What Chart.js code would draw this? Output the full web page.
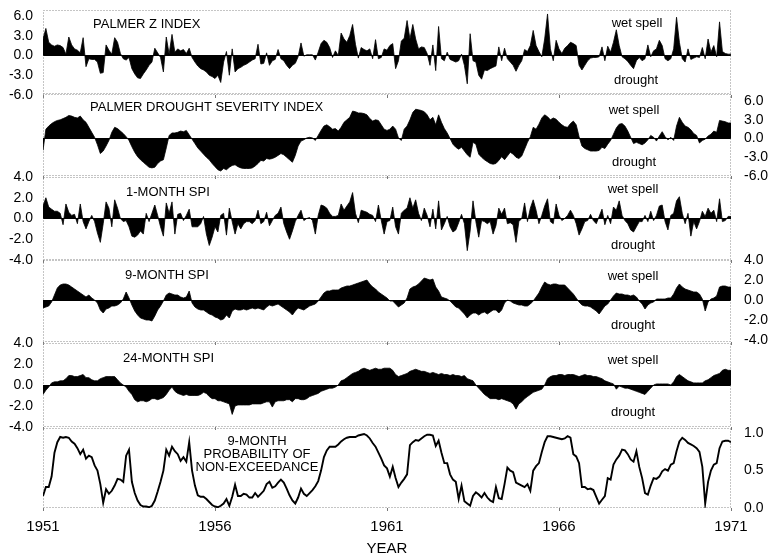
<!DOCTYPE html>
<html><head><meta charset="utf-8">
<script src="https://cdn.jsdelivr.net/npm/chart.js@4.4.1/dist/chart.umd.min.js"></script>
<style>
html,body{margin:0;padding:0;background:#fff;}
#wrap{position:relative;width:774px;height:556px;overflow:hidden;background:#fff;}
#wrap canvas{position:absolute;left:0;}
</style></head><body><div id="wrap"></div>
<script>
// ---- data (monthly, Jan 1951 .. Jan 1971) ----
const yearTicks = [0, 60, 120, 180, 240];
const yearLabels = ['1951', '1956', '1961', '1966', '1971'];
const palmerTicks = [-6, -3, 0, 3, 6];
const spiTicks = [-4, -2, 0, 2, 4];
const probTicks = [0, 0.5, 1];

const palmerZ = [
 2.5, 4.1, 2.0, 1.6, 1.4, 1.6, 1.5, 1.2, 0.2, 2.8, 1.6, 1.0,
 0.8, 0.4, 2.7, -1.7, -0.5, -0.6, -0.6, -1.0, -2.7, -2.6, 1.6, 0.8,
 0.2, 2.7, 2.0, 0.3, -0.5, -0.7, -0.3, -2.0, -2.8, -3.4, -3.5, -2.8,
 -2.2, -1.5, -1.0, 1.1, 0.4, -0.3, -2.5, 2.8, 0.2, 3.2, 0.5, 1.0,
 0.7, 0.9, 0.3, 1.1, -0.3, -1.0, -1.6, -2.0, -2.2, -2.5, -3.0, -3.2,
 -3.5, -3.0, -4.1, -1.0, 0.6, -3.0, 1.0, -2.5, -2.0, -1.8, -1.5, -1.3,
 -1.0, -0.7, -0.5, 1.7, -1.3, -1.2, 0.4, -1.5, -0.8, -0.6, 0.9, -0.5,
 -0.8, -1.5, -2.0, -1.5, -1.2, -0.2, 1.9, -0.1, 0.1, 0.1, 0.1, -0.7,
 0.5, 1.8, 2.3, 2.0, 1.2, -0.3, 0.7, 0.0, 3.4, 2.5, 2.0, 3.0,
 4.7, 1.7, -0.4, 1.2, 0.9, 0.7, 1.0, -0.5, 2.4, -0.5, -0.3, 1.0,
 0.8, 1.5, 1.8, -2.0, -0.8, 2.2, 2.6, 5.3, 2.5, 4.7, 2.5, 1.0,
 1.3, 1.2, 0.3, -1.5, 1.6, -2.3, 4.4, -0.5, -0.8, 0.5, -0.6, -0.8,
 -1.0, -0.8, 0.2, -1.5, -4.3, 3.3, -0.8, -1.0, -3.0, -3.6, -2.2, -2.3,
 -2.0, -1.8, -1.6, 1.3, -0.8, 1.1, -0.5, -1.0, -1.5, -2.4, -1.5, -0.8,
 0.9, 0.6, 1.5, 3.8, 1.5, 0.6, -0.2, 2.5, 6.3, 1.0, -0.8, 2.3,
 1.0, 0.3, 1.1, 1.5, 2.0, 1.8, 1.5, -1.5, -2.2, -1.5, -0.8, -0.4,
 -0.3, -0.3, -0.2, 1.3, -0.8, 1.4, 0.5, 2.0, 3.9, 1.5, -0.2, -0.5,
 -0.9, -1.5, -2.0, -0.8, -0.3, -0.8, -0.5, 1.6, -0.2, 0.7, 1.0, 2.3,
 1.5, -0.5, -0.8, -0.5, 1.0, 5.8, 2.0, -0.5, -1.0, 1.0, -0.6, -0.4,
 -0.2, -0.3, 1.2, -0.5, 2.5, 0.5, 1.5, -0.2, 5.1, 0.6, 0.3, 0.2,
 0.2
];

const pdsi = [
 -1.9, 1.5, 2.0, 2.4, 2.7, 2.9, 3.0, 3.2, 3.4, 3.7, 3.6, 3.4,
 3.3, 3.6, 3.0, 2.6, 1.8, 1.0, 0.2, -1.0, -2.4, -2.0, -1.2, -0.3,
 1.0, 1.8, 1.6, 1.2, 0.8, 0.3, -0.3, -1.3, -2.2, -2.9, -3.4, -3.8,
 -4.2, -4.6, -4.7, -4.6, -4.0, -3.6, -3.4, -1.5, 0.5, 0.9, 0.9, 1.0,
 1.2, 1.1, 1.3, 0.6, -0.1, -0.8, -1.5, -2.0, -2.5, -3.0, -3.4, -4.0,
 -4.5, -5.0, -5.2, -4.8, -5.0, -4.6, -4.3, -4.2, -4.5, -4.7, -4.8, -4.8,
 -4.8, -4.7, -4.4, -4.0, -3.5, -3.6, -3.2, -3.3, -3.2, -3.0, -2.7, -2.4,
 -2.6, -3.0, -3.4, -3.8, -2.7, -1.2, -0.4, -0.2, 0.1, 0.2, 0.1, -0.3,
 0.5, 1.3, 2.0, 2.2, 1.9, 1.5, 1.6, 1.2, 1.8, 2.6, 3.0, 3.4,
 4.4, 4.3, 4.1, 4.1, 4.0, 3.8, 3.2, 2.8, 3.0, 2.9, 2.2, 1.5,
 1.3, 1.5, 2.0, 1.5, 0.1, -0.3, 1.5, 2.0, 3.0, 4.2, 4.7, 4.6,
 4.5, 4.3, 3.8, 3.0, 3.4, 2.2, 3.8, 2.6, 1.6, 0.9, 0.0, -0.9,
 -1.4, -1.7, -1.4, -2.0, -2.6, -3.0, -0.6, -0.9, -2.5, -3.0, -3.4, -3.7,
 -4.0, -4.1, -4.0, -3.5, -2.9, -3.4, -2.8, -2.2, -2.5, -3.0, -3.2, -2.8,
 -1.7, -0.6, 0.3, 1.8, 1.5, 2.3, 3.3, 3.8, 3.5, 3.0, 3.3, 3.1,
 2.6, 2.2, 1.9, 1.8, 2.4, 2.8, 2.2, 0.3, -1.2, -1.6, -1.8, -2.0,
 -2.0, -2.0, -1.9, -1.4, -1.6, -0.9, -0.3, 0.7, 1.7, 2.3, 2.4, 2.0,
 1.2, 0.2, -0.8, -0.6, -0.8, -1.0, -0.7, -0.2, 0.5, 0.2, -0.4, 0.4,
 1.1, 0.3, -0.2, 0.2, -0.3, 2.0, 3.4, 2.6, 2.0, 1.8, 1.4, 0.8,
 0.5, -0.7, -0.3, -0.1, 0.4, 0.7, 1.2, 1.0, 2.9, 2.8, 2.7, 2.5,
 2.5
];

const spi1 = [
 1.2, 2.0, 1.1, 0.9, 0.7, 0.7, 0.5, -0.6, 1.4, 0.6, 0.3, 0.4,
 -0.5, 1.4, -0.3, -1.0, -0.3, 0.3, -0.3, -1.4, -2.3, -0.5, 1.6, 1.0,
 -0.8, 1.8, 1.0, 0.0, -0.3, -0.2, -0.8, -1.7, -1.8, -1.6, -1.2, -1.5,
 0.5, -0.3, 0.5, 1.3, 0.3, -0.8, -1.7, 1.5, 0.5, 1.6, -1.5, 0.4,
 0.5, -0.2, 0.3, 0.9, -0.8, -0.8, -0.8, -0.5, 0.2, -1.5, -2.6, -1.8,
 -0.8, -1.3, 0.3, 0.5, -1.6, 1.0, -0.3, -1.5, -0.5, -1.0, -0.5, -0.3,
 -0.3, -0.5, -0.2, 0.8, -0.5, -0.3, 0.6, -0.7, -0.2, 0.3, 0.5, 1.1,
 -0.5, -1.3, -2.0, -1.2, -0.3, 0.3, 0.8, -0.2, 0.0, 0.1, -0.2, -1.5,
 0.3, 1.3, 1.2, 1.0, 0.5, 0.2, 0.2, 0.3, 1.4, 0.8, 1.2, 1.6,
 2.5, 0.5, -0.4, 0.8, 0.7, 0.6, 0.4, 0.3, -0.3, 1.3, -0.2, -1.5,
 -0.3, -0.2, 1.1, -0.8, -1.5, 0.5, 0.8, 1.0, 2.0, 1.0, 1.8, 0.5,
 -0.2, 1.0, 0.3, -0.8, 0.9, -1.0, 1.7, -1.1, -0.5, 0.2, -0.8, -1.3,
 -1.1, -0.4, 0.4, -0.5, -3.1, -1.2, 1.7, -0.3, -1.8, -0.2, -0.3, -0.5,
 -0.3, -1.5, -0.7, 1.0, 0.4, 1.0, -0.5, -0.4, -0.6, -2.3, -0.3, 0.0,
 1.5, -0.3, 1.0, 1.8, 0.8, -0.5, 0.3, 1.2, 1.9, -0.3, -0.5, 1.4,
 0.3, -0.2, 0.0, 0.3, 0.8, 0.3, -0.5, -1.6, -1.0, -0.3, -0.2, 0.4,
 -0.2, -0.5, 0.2, 0.9, -0.6, 0.3, -0.5, 1.1, 0.8, 1.7, 0.3, -0.2,
 -0.5, -1.1, -1.3, -0.8, -0.3, -0.3, 0.3, -0.3, 0.7, -0.2, 0.3, 1.2,
 1.3, -0.3, -1.1, 0.3, 0.5, 1.7, 2.1, 0.5, -0.5, 0.5, -1.7, -0.3,
 -1.0, -0.3, 0.7, 0.2, 1.0, 0.5, 0.8, -0.3, 1.9, -0.3, -0.2, 0.2,
 0.2
];

const spi9 = [
 -0.8, -0.7, -0.6, -0.2, 0.5, 1.2, 1.5, 1.6, 1.6, 1.5, 1.3, 1.1,
 0.9, 0.7, 0.5, 0.3, 0.5, 0.2, 0.0, -0.3, -1.0, -1.3, -0.9, -0.8,
 -0.6, -0.6, -0.5, -0.3, 0.1, 0.8, 0.2, -0.5, -1.1, -1.5, -1.8, -1.9,
 -2.0, -2.0, -2.1, -1.6, -1.0, -0.6, -0.1, 0.5, 0.7, 0.6, 0.5, 0.5,
 0.3, 0.2, 0.3, 0.9, -0.3, -0.7, -0.9, -1.0, -1.0, -1.2, -1.4, -1.5,
 -1.7, -1.8, -2.0, -1.9, -1.5, -1.8, -1.1, -0.9, -1.0, -1.0, -0.9, -1.0,
 -0.9, -0.8, -0.9, -0.8, -0.9, -1.0, -0.7, -0.5, -0.6, -0.5, -0.4, -0.6,
 -0.8, -1.0, -1.2, -1.5, -1.1, -0.8, -0.9, -1.0, -0.8, -0.6, -0.5, -0.4,
 -0.1, 0.3, 0.7, 0.9, 0.9, 1.0, 1.0, 1.0, 1.2, 1.3, 1.4, 1.4,
 1.5, 1.6, 1.7, 1.8, 1.9, 2.0, 1.6, 1.3, 1.1, 0.8, 0.6, 0.4,
 0.2, -0.1, -0.1, -0.4, -0.7, -0.5, -0.3, 0.2, 1.1, 1.3, 1.4, 1.6,
 1.9, 2.2, 2.1, 2.0, 2.1, 1.3, 0.9, 0.3, 0.2, 0.1, -0.1, -0.4,
 -0.7, -0.8, -1.1, -1.4, -1.8, -1.5, -1.3, -1.3, -1.5, -1.3, -1.2, -1.4,
 -1.2, -1.0, -1.0, -1.3, -1.0, -0.3, 0.0, -0.1, -0.3, -0.4, -0.5, -0.5,
 -0.6, -0.6, -0.4, -0.1, 0.3, 0.7, 1.3, 1.8, 1.6, 1.5, 1.6, 1.6,
 1.5, 1.5, 1.5, 1.2, 0.9, 0.6, 0.2, -0.2, -0.5, -0.6, -0.6, -0.7,
 -0.9, -1.1, -1.4, -1.0, -0.6, -0.4, 0.0, 0.4, 0.7, 0.6, 0.6, 0.5,
 0.5, 0.4, 0.5, 0.3, -0.1, -0.4, -0.9, -0.5, -0.3, -0.2, 0.1, 0.1,
 0.1, 0.1, 0.2, 0.2, 0.6, 1.2, 1.6, 1.3, 1.1, 1.0, 0.9, 0.8,
 0.8, 0.6, 0.1, -1.1, -0.2, 0.1, 0.2, 0.4, 1.3, 1.4, 1.4, 1.3,
 1.3
];

const spi24 = [
 -0.9, -0.5, -0.2, 0.2, 0.3, 0.3, 0.4, 0.4, 0.6, 0.9, 0.9, 0.8,
 0.8, 0.9, 1.0, 0.7, 0.7, 0.5, 0.4, 0.4, 0.6, 0.7, 0.8, 0.8,
 0.8, 0.8, 0.5, 0.2, 0.0, -0.2, -0.6, -0.9, -1.4, -1.6, -1.5, -1.5,
 -1.6, -1.5, -1.3, -1.3, -1.4, -1.3, -1.2, -0.9, -0.5, -0.2, -0.6, -0.8,
 -0.9, -1.0, -0.9, -1.0, -1.0, -1.0, -1.0, -0.9, -0.7, -0.8, -1.1, -1.3,
 -1.3, -1.5, -1.5, -1.6, -1.7, -1.8, -2.8, -2.0, -1.9, -1.9, -1.9, -1.9,
 -1.9, -1.8, -1.8, -1.8, -1.8, -1.7, -1.6, -1.6, -2.1, -1.6, -1.5, -1.5,
 -1.5, -1.4, -1.4, -1.6, -1.3, -1.3, -1.4, -1.4, -1.3, -1.1, -1.0, -0.9,
 -0.8, -0.6, -0.5, -0.4, -0.3, -0.3, -0.2, 0.0, 0.4, 0.5, 0.7, 0.9,
 1.1, 1.2, 1.3, 1.5, 1.6, 1.5, 1.4, 1.5, 1.6, 1.5, 1.5, 1.6,
 1.6, 1.6, 1.4, 1.0, 0.8, 0.9, 1.0, 1.1, 1.3, 1.4, 1.5, 1.4,
 1.3, 1.3, 1.2, 1.1, 1.2, 1.1, 1.0, 1.1, 1.0, 1.0, 0.9, 1.0,
 0.9, 0.9, 0.8, 0.9, 0.6, 0.5, 0.4, 0.0, -0.3, -0.6, -0.9, -1.1,
 -1.3, -1.3, -1.3, -1.4, -1.3, -1.4, -1.5, -1.6, -1.8, -2.3, -1.8, -1.6,
 -1.3, -1.1, -0.9, -0.7, -0.6, -0.5, -0.4, 0.0, 0.6, 0.8, 0.9, 0.9,
 1.0, 1.0, 0.9, 1.0, 1.0, 1.0, 0.9, 0.8, 0.9, 1.0, 0.9, 0.9,
 0.8, 0.8, 0.7, 0.6, 0.4, 0.3, 0.2, 0.1, -0.4, -0.1, -0.2, -0.3,
 -0.3, -0.4, -0.5, -0.6, -0.7, -0.8, -0.9, -0.6, -0.3, 0.0, 0.1, 0.1,
 0.1, 0.1, 0.1, 0.0, 0.3, 0.8, 1.0, 0.8, 0.6, 0.4, 0.3, 0.2,
 0.2, 0.2, 0.2, 0.4, 0.5, 0.7, 0.9, 1.0, 1.1, 1.4, 1.5, 1.4,
 1.4
];

const prob9 = [
 0.16, 0.28, 0.28, 0.42, 0.74, 0.88, 0.95, 0.94, 0.95, 0.94, 0.89, 0.86,
 0.80, 0.72, 0.78, 0.66, 0.70, 0.68, 0.57, 0.50, 0.32, 0.07, 0.25, 0.19,
 0.23, 0.30, 0.39, 0.38, 0.35, 0.70, 0.78, 0.35, 0.20, 0.10, 0.04, 0.02,
 0.02, 0.01, 0.03, 0.10, 0.22, 0.35, 0.50, 0.78, 0.70, 0.82, 0.76, 0.72,
 0.63, 0.68, 0.62, 0.88, 0.50, 0.30, 0.17, 0.15, 0.15, 0.12, 0.08, 0.04,
 0.02, 0.01, 0.03, 0.06, 0.12, 0.03, 0.15, 0.31, 0.16, 0.16, 0.19, 0.18,
 0.14, 0.14, 0.20, 0.15, 0.19, 0.23, 0.32, 0.35, 0.27, 0.29, 0.34, 0.38,
 0.34, 0.26, 0.17, 0.10, 0.06, 0.14, 0.26, 0.19, 0.16, 0.20, 0.24, 0.29,
 0.36, 0.50, 0.68, 0.77, 0.82, 0.82, 0.82, 0.85, 0.89, 0.92, 0.94, 0.95,
 0.95, 0.95, 0.97, 0.98, 0.99, 0.97, 0.93, 0.87, 0.82, 0.74, 0.66, 0.57,
 0.53, 0.42, 0.55, 0.40, 0.28, 0.34, 0.39, 0.45, 0.84, 0.88, 0.91, 0.90,
 0.93, 0.96, 0.98, 0.98, 0.97, 0.83, 0.90, 0.74, 0.60, 0.60, 0.45, 0.38,
 0.35, 0.12, 0.30, 0.09, 0.06, 0.03, 0.16, 0.21, 0.18, 0.14, 0.20, 0.14,
 0.10, 0.08, 0.28, 0.13, 0.12, 0.32, 0.54, 0.50, 0.48, 0.34, 0.32, 0.30,
 0.28, 0.32, 0.23, 0.50, 0.56, 0.60, 0.75, 0.88, 0.96, 0.96, 0.95, 0.94,
 0.93, 0.92, 0.93, 0.96, 0.94, 0.72, 0.69, 0.60, 0.28, 0.28, 0.25, 0.26,
 0.24, 0.15, 0.06, 0.11, 0.16, 0.40, 0.38, 0.58, 0.65, 0.70, 0.78, 0.77,
 0.72, 0.65, 0.62, 0.76, 0.55, 0.40, 0.20, 0.18, 0.30, 0.40, 0.39, 0.42,
 0.49, 0.52, 0.50, 0.58, 0.60, 0.76, 0.89, 0.94, 0.91, 0.87, 0.85, 0.83,
 0.80, 0.75, 0.55, 0.06, 0.35, 0.50, 0.58, 0.60, 0.80, 0.89, 0.90, 0.90,
 0.88
];

// ---- layout / style ----
const FONT = "'Liberation Sans', Arial, Helvetica, sans-serif";
Chart.defaults.font.family = FONT;
Chart.defaults.color = '#000';
const W = 774, H_TOTAL = 558, LEFT = 43, RIGHT = 731, PAD = 32;

const panels = [
  {data: palmerZ, top: 10, bottom: 95, min: -6, max: 6.9, side: 'left', ticks: palmerTicks, fill: true,
   texts: [['PALMER Z INDEX', 93, 24, 'left'], ['wet spell', 637, 23, 'center'], ['drought', 636, 80, 'center']]},
  {data: pdsi, top: 93, bottom: 176, min: -6, max: 7.3, side: 'right', ticks: palmerTicks, fill: true,
   texts: [['PALMER DROUGHT SEVERITY INDEX', 90, 107, 'left'], ['wet spell', 634, 110, 'center'], ['drought', 634, 162, 'center']]},
  {data: spi1, top: 177, bottom: 260, min: -4, max: 4, side: 'left', ticks: spiTicks, fill: true,
   texts: [['1-MONTH SPI', 126, 192, 'left'], ['wet spell', 633, 189, 'center'], ['drought', 633, 245, 'center']]},
  {data: spi9, top: 260, bottom: 342, min: -4.2, max: 4, side: 'right', ticks: spiTicks, fill: true,
   texts: [['9-MONTH SPI', 125, 275, 'left'], ['wet spell', 633, 276, 'center'], ['drought', 633, 325, 'center']]},
  {data: spi24, top: 343, bottom: 427, min: -4, max: 4, side: 'left', ticks: spiTicks, fill: true,
   texts: [['24-MONTH SPI', 123, 358, 'left'], ['wet spell', 633, 360, 'center'], ['drought', 633, 412, 'center']]},
  {data: prob9, top: 428, bottom: 508, min: 0, max: 1.07, side: 'right', ticks: probTicks, fill: false,
   texts: [['9-MONTH', 257, 441, 'center'], ['PROBABILITY OF', 257, 454, 'center'], ['NON-EXCEEDANCE', 257, 467, 'center']]}
];

// dotted panel frame + panel annotations
const panelPlugin = {
  id: 'panelText',
  beforeDatasetsDraw(chart) {
    const a = chart.chartArea, ctx = chart.ctx;
    ctx.save();
    ctx.strokeStyle = '#8a8a8a';
    ctx.lineWidth = 1;
    ctx.setLineDash([1, 2]);
    ctx.strokeRect(Math.round(a.left) + 0.5, Math.round(a.top) + 0.5,
                   Math.round(a.right - a.left) - 1, Math.round(a.bottom - a.top) - 1);
    ctx.restore();
  },
  afterDraw(chart, args, opts) {
    const ctx = chart.ctx;
    ctx.save();
    ctx.fillStyle = '#000';
    ctx.textBaseline = 'middle';
    ctx.font = '13px ' + FONT;
    (opts.items || []).forEach(t => {
      ctx.textAlign = t[3];
      ctx.fillText(t[0], t[1], t[2] - opts.offset);
    });
    ctx.restore();
  }
};

const wrap = document.getElementById('wrap');
panels.forEach((p, i) => {
  const isLast = i === panels.length - 1;
  const cTop = p.top - PAD;
  const cBottom = isLast ? H_TOTAL : p.bottom + PAD;
  const H = cBottom - cTop;
  const canvas = document.createElement('canvas');
  canvas.width = W; canvas.height = H;
  canvas.style.width = W + 'px'; canvas.style.height = H + 'px';
  canvas.style.top = cTop + 'px';
  wrap.appendChild(canvas);
  const pts = p.data.map((v, m) => ({x: m, y: v}));
  const mainSide = p.side;
  new Chart(canvas.getContext('2d'), {
    type: 'line',
    data: {datasets: [{
      data: pts,
      fill: p.fill ? 'origin' : false,
      backgroundColor: '#000',
      borderColor: '#000',
      borderWidth: p.fill ? 0.8 : 1.9,
      pointRadius: 0,
      tension: 0
    }]},
    options: {
      responsive: false, animation: false, events: [],
      layout: {padding: {
        top: PAD,
        bottom: isLast ? 0 : PAD,
        left: mainSide === 'left' ? 0 : LEFT,
        right: mainSide === 'right' ? 0 : (W - RIGHT)
      }},
      plugins: {
        legend: {display: false},
        tooltip: {enabled: false},
        panelText: {items: p.texts, offset: cTop}
      },
      scales: {
        x: {
          type: 'linear', position: 'bottom', min: 0, max: 240,
          afterBuildTicks: s => { s.ticks = yearTicks.map(v => ({value: v})); },
          ticks: {display: isLast, autoSkip: false, font: {size: 15}, padding: 7, maxRotation: 0,
                  callback: (v, idx) => yearLabels[idx]},
          grid: {display: true, drawOnChartArea: false, drawTicks: true, tickLength: 3, color: '#777'},
          border: {display: false},
          title: {display: isLast, text: 'YEAR', font: {size: 15}, padding: 0},
          afterFit: s => { s.height = isLast ? 50 : 0; }
        },
        y: {
          position: mainSide, min: p.min, max: p.max,
          afterBuildTicks: s => { s.ticks = p.ticks.map(v => ({value: v})); },
          ticks: {autoSkip: false, padding: mainSide === 'left' ? 10 : 13, font: {size: 14},
                  callback: (v) => Number(v).toFixed(1)},
          grid: {display: true, drawTicks: false, lineWidth: 1,
                 color: c => (p.fill && c.tick && c.tick.value === 0) ? '#000' : 'rgba(0,0,0,0)'},
          border: {display: false},
          afterFit: s => { s.width = mainSide === 'left' ? LEFT : (W - RIGHT); }
        }
      }
    },
    plugins: [panelPlugin]
  });
});
</script>
</body></html>
